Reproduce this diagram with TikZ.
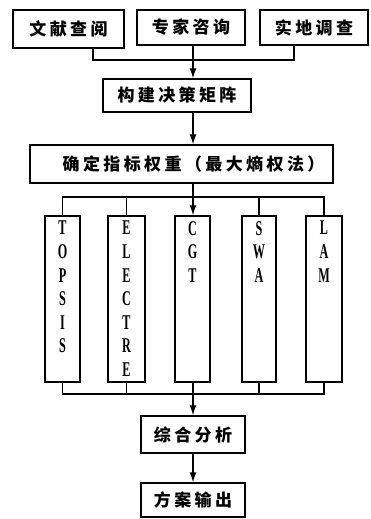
\documentclass[tikz,border=0pt]{standalone}
\usepackage{fontspec}
\newfontfamily\cjk{Noto Sans CJK SC}[LetterSpace=20]
\newfontfamily\lat{Liberation Serif}
\usetikzlibrary{arrows.meta}
\newcommand{\vl}[1]{\scalebox{0.58}[1]{#1}}
\tikzset{
  box/.style={draw, line width=1.4pt, inner sep=0pt, font=\cjk\bfseries\fontsize{17}{19}\selectfont},
  vbox/.style={draw, line width=1.4pt, inner sep=0pt, minimum height=166pt},
  vtext/.style={inner sep=0pt, anchor=north, align=center, font=\lat\bfseries\fontsize{21}{23.6}\selectfont},
  conn/.style={line width=1.3pt},
  arr/.style={line width=1.3pt, -{Latex[length=10pt,width=7pt]}}
}
\begin{document}
\begin{tikzpicture}[x=1pt,y=-1pt]
\useasboundingbox (0,0) rectangle (371,519);
% top row
\node[box, minimum width=111pt, minimum height=38pt] (b1) at (68.5,29) {文献查阅};
\node[box, minimum width=108pt, minimum height=35pt] (b2) at (191,27.5) {专家咨询};
\node[box, minimum width=108pt, minimum height=35pt] (b3) at (314,27.5) {实地调查};
\node[box, minimum width=148pt, minimum height=33pt] (m) at (177,95.5) {构建决策矩阵};
\node[box, minimum width=303pt, minimum height=38pt] (w) at (181.5,164) {\hspace*{24pt}确定指标权重（最大熵权法）};
% method boxes
\node[vbox, minimum width=35pt] (t1) at (62.5,299) {};
\node[vbox, minimum width=37pt] (t2) at (126.5,299) {};
\node[vbox, minimum width=35pt] (t3) at (192.5,299) {};
\node[vbox, minimum width=34pt] (t4) at (259,299) {};
\node[vbox, minimum width=36pt] (t5) at (324,299) {};
\node[vtext] (l1) at (62.5,221) {\vl{T}\\\vl{O}\\\vl{P}\\\vl{S}\\\vl{I}\\\vl{S}};
\node[vtext] (l2) at (126.5,221) {\vl{E}\\\vl{L}\\\vl{E}\\\vl{C}\\\vl{T}\\\vl{R}\\\vl{E}};
\node[vtext] (l3) at (192.5,221) {\vl{C}\\\vl{G}\\\vl{T}};
\node[vtext] (l4) at (259,221) {\vl{S}\\\vl{W}\\\vl{A}};
\node[vtext] (l5) at (324,221) {\vl{L}\\\vl{A}\\\vl{M}};
% bottom
\node[box, minimum width=104pt, minimum height=37pt] (s) at (193,434.5) {综合分析};
\node[box, minimum width=104pt, minimum height=34pt] (o) at (193,500) {方案输出};
% junction coordinates
\coordinate (j1) at (193,60);
\coordinate (j2) at (193,197);
\coordinate (j3) at (193,394);
% top connectors
\draw[conn] ([xshift=24.5pt]b1.south) |- (j1);
\draw[conn] ([xshift=-20pt]b3.south) |- (j1);
\draw[arr] (b2.south -| j1) -- (m.north -| j1);
\draw[arr] (m.south -| j1) -- (w.north -| j1);
% fan out
\draw[conn] (w.south -| j1) -- (j2);
\draw[conn] (t1.north) |- (j2) -| (t5.north);
\draw[conn] (t2.north) -- (t2.north |- j2);
\draw[conn] (t4.north) -- (t4.north |- j2);
\draw[arr] (j2) -- (t3.north -| j2);
% fan in
\draw[conn] (t1.south) |- (j3) -| (t5.south);
\draw[conn] (t2.south) -- (t2.south |- j3);
\draw[conn] (t4.south) -- (t4.south |- j3);
\draw[conn] (t3.south -| j3) -- (j3);
\draw[arr] (j3) -- (s.north);
\draw[arr] (s.south) -- (o.north);
\end{tikzpicture}
\end{document}
